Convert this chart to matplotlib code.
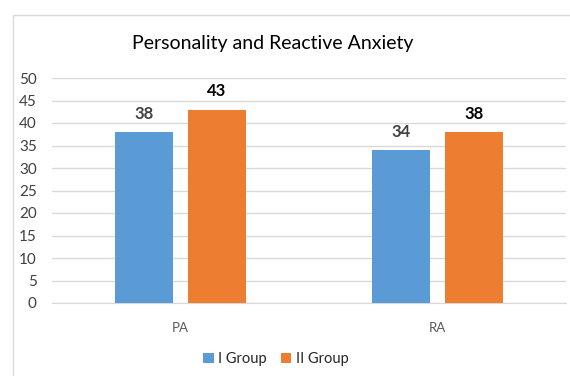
import numpy as np
import matplotlib.pyplot as plt
from matplotlib.patches import Rectangle

plt.rcParams['font.family'] = ['Lato', 'DejaVu Sans']

categories = ['PA', 'RA']
group_names = ['I Group', 'II Group']
group1 = [38, 34]
group2 = [43, 38]
colors = ['#5B9BD5', '#ED7D31']
label_colors = ['#404040', '#000000']

W, H = 570, 376
fig = plt.figure(figsize=(W / 100, H / 100), dpi=100)

# chart frame (runs off the right and bottom edges)
fig.patches.append(Rectangle((13 / W, -0.1), 1.2, 1 - 15 / H + 0.1,
                             transform=fig.transFigure, fill=False,
                             edgecolor='#d9d9d9', linewidth=1.0))

ax = fig.add_axes([52 / W, 1 - 303 / H, (566 - 52) / W, (303 - 78) / H])

x = np.arange(len(categories))
width = 0.224
offset = 0.142
for i, (vals, c) in enumerate(zip([group1, group2], colors)):
    pos = x + (i * 2 - 1) * offset
    ax.bar(pos, vals, width, color=c, label=group_names[i], zorder=3)
    for px, v in zip(pos, vals):
        ax.text(px, v + 2.3, str(v), ha='center', va='bottom',
                fontsize=12, fontweight='bold', color=label_colors[i])

ax.set_xlim(-0.5, 1.5)
ax.set_ylim(0, 50)
ax.set_yticks(np.arange(0, 51, 5))
ax.set_xticks(x)
ax.set_xticklabels(categories)
ax.yaxis.grid(True, color='#d9d9d9', linewidth=1.0, zorder=0)
ax.set_axisbelow(True)
for s in ['top', 'right', 'left']:
    ax.spines[s].set_visible(False)
ax.spines['bottom'].set_color('#d9d9d9')
ax.tick_params(axis='both', length=0)
ax.tick_params(axis='y', labelsize=11, pad=11, colors='#404040')
ax.tick_params(axis='x', labelsize=9.5, pad=14, colors='#595959')

fig.text(273 / W, 1 - 44 / H, 'Personality and Reactive Anxiety',
         ha='center', va='center', fontsize=14, color='#000000')

fig.legend(loc='center', bbox_to_anchor=(276 / W, 1 - 359 / H), ncol=2,
           frameon=False, fontsize=10.5, handlelength=0.7, handleheight=0.7,
           handletextpad=0.3, columnspacing=1.0, labelcolor='#262626')

fig.savefig('out.png', dpi=100)
